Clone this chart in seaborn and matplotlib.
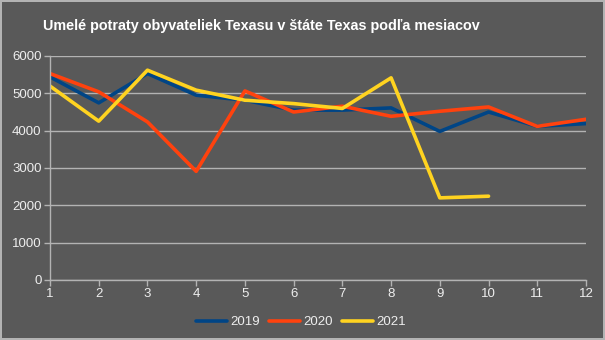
import matplotlib
matplotlib.use("Agg")
import matplotlib.pyplot as plt
import seaborn as sns
import pandas as pd

months = list(range(1, 13))
y2019 = [5440, 4745, 5530, 4950, 4815, 4550, 4550, 4610, 3980, 4500, 4115, 4190]
y2020 = [5530, 5040, 4235, 2910, 5065, 4500, 4655, 4385, 4520, 4635, 4115, 4305]
y2021 = [5195, 4255, 5620, 5085, 4815, 4725, 4595, 5415, 2200, 2245]
years = ["2019", "2020", "2021"]
colors = ["#004586", "#ff420e", "#ffd320"]

rows = []
for year, vals in zip(years, [y2019, y2020, y2021]):
    for m, v in zip(months, vals):
        rows.append({"mesiac": m, "počet": v, "rok": year})
df = pd.DataFrame(rows)

sns.set_theme(style="dark")
plt.rcParams["font.family"] = ["Liberation Sans", "DejaVu Sans"]

bg = "#595959"
fig = plt.figure(figsize=(6.05, 3.4), dpi=100, facecolor=bg)
fig.patch.set_edgecolor("#b3b3b3")
fig.patch.set_linewidth(1.5)
ax = fig.add_axes([50 / 605, 1 - 280 / 340, 536 / 605, 224 / 340])
ax.set_facecolor(bg)

sns.lineplot(data=df, x="mesiac", y="počet", hue="rok", palette=colors,
             linewidth=2.6, ax=ax, legend=True)

ax.set_xlim(1, 12)
ax.set_ylim(0, 6000)
ax.set_xticks(months)
ax.set_yticks(range(0, 6001, 1000))
ax.grid(axis="y", color="#b3b3b3", linewidth=1)
ax.grid(axis="x", visible=False)
ax.set_axisbelow(True)
for s in ["top", "right"]:
    ax.spines[s].set_visible(False)
for s in ["left", "bottom"]:
    ax.spines[s].set_color("#b3b3b3")
    ax.spines[s].set_linewidth(1)
ax.tick_params(axis="both", colors="#b3b3b3", labelcolor="#eeeeee",
               labelsize=9.5, length=4, width=1, direction="out",
               bottom=True, left=True, pad=2)
ax.set_xlabel("")
ax.set_ylabel("")

fig.text(261 / 605, 1 - 26 / 340, "Umelé potraty obyvateliek Texasu v štáte Texas podľa mesiacov",
         ha="center", va="center", color="#ffffff", fontsize=10.4, fontweight="bold")

handles, labels = ax.get_legend_handles_labels()
ax.legend_.remove()
leg = fig.legend(handles, labels, loc="center", bbox_to_anchor=(301 / 605, 1 - 322 / 340),
                 ncol=3, frameon=False, fontsize=9.5, labelcolor="#eeeeee",
                 handlelength=2.3, columnspacing=0.75, handletextpad=0.25)

fig.savefig("out.png", dpi=100, facecolor=bg, edgecolor=fig.patch.get_edgecolor())
